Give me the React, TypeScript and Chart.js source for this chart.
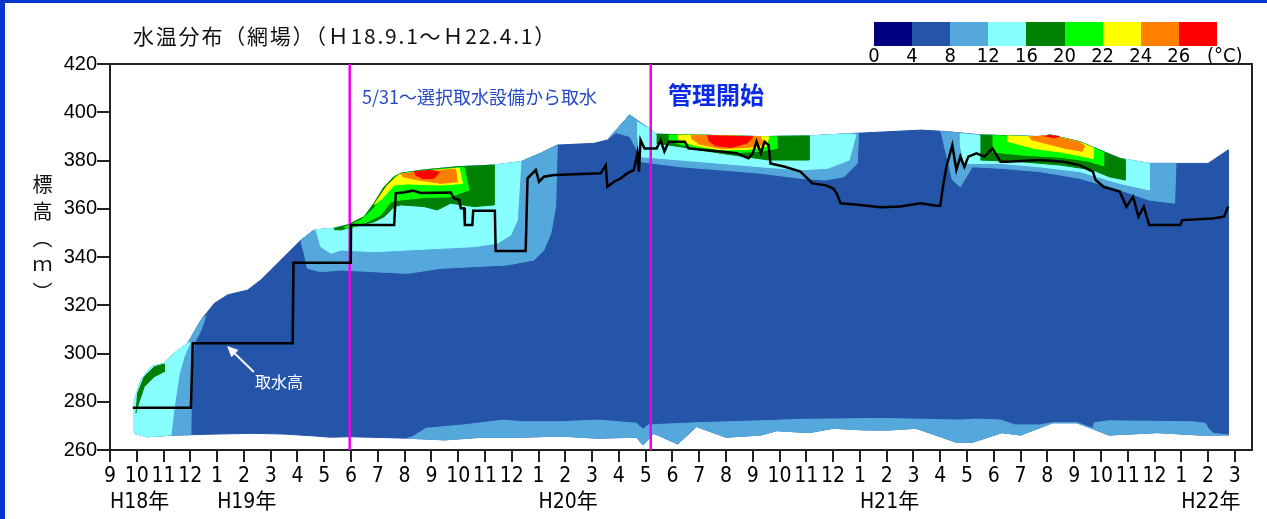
import React, { useEffect, useRef } from 'react';
import { Chart, registerables } from 'chart.js';

Chart.register(...registerables);

type P = [number, number];

// x = months elapsed since H18.9.1 (2006-09-01), y = elevation (m)
const X_MAX = 42.64;
const monthLabels = ['9', '10', '11', '12', '1', '2', '3', '4', '5', '6', '7', '8', '9', '10', '11', '12', '1', '2', '3', '4', '5', '6', '7', '8', '9', '10', '11', '12', '1', '2', '3', '4', '5', '6', '7', '8', '9', '10', '11', '12', '1', '2', '3'];
const yearTickMonths = [0, 4, 16, 28, 40];
const yearLabels = ['H18年', 'H19年', 'H20年', 'H21年', 'H22年'];
const elevTicks = [260, 280, 300, 320, 340, 360, 380, 400, 420];

const legendLabels = ['0', '4', '8', '12', '16', '20', '22', '24', '26'];
const tempColors = ['#000080', '#2555A8', '#55A8DC', '#88FFFF', '#008000', '#00FF00', '#FFFF00', '#FF8000', '#FF0000'];

// water surface (top of the coloured area), left -> right
const surface: P[] = [
  [0.91, 268], [0.91, 280.7], [1.16, 289], [1.53, 294.5], [2.03, 295.9], [2.4, 300.1], [2.9, 304.2], [3.4, 313.9],
  [3.9, 320.8], [4.39, 324.3], [5.14, 326.3], [5.63, 330.5], [6.38, 338.8], [7.13, 347.0], [7.62, 351.2], [8.37, 351.9],
  [8.87, 353.3], [9.49, 356.7], [9.86, 362.3], [10.24, 369.1], [10.61, 373.3], [10.86, 374.7], [11.73, 376.1],
  [12.97, 377.4], [14.34, 378.1], [15.34, 379.5], [16.08, 383.0], [16.7, 386.4], [18.07, 387.1], [18.57, 388.5],
  [19.4, 398.9], [20.1, 393.5], [20.41, 390.9], [21.75, 390.6], [24.3, 389.9], [26.1, 390.2], [27.9, 391.3],
  [30.3, 392.6], [31.2, 392], [32.5, 390.6], [34.7, 389.9], [35.1, 390.6], [36.2, 387.8], [37.7, 380.9],
  [38.8, 378.8], [41.0, 378.8], [41.75, 384.4],
];

// bottom of the coloured area, right -> left
const bottomEdge: P[] = [
  [41.75, 266.2], [40.7, 266.2], [39.1, 267.2], [37.3, 266.2], [36.1, 271.3], [35.2, 271.3], [34.0, 266.2],
  [33.3, 267.2], [32.2, 263.2], [31.6, 263.2], [30.1, 269], [29.1, 268.3], [28.2, 268.3], [27.0, 269], [26.1, 267.2],
  [24.9, 268.0], [24.3, 266.2], [23.0, 265.3], [21.9, 269.7], [21.2, 262.5], [20.3, 266.9], [19.9, 262.1],
  [19.66, 265.3], [18.2, 264.9], [16.8, 265.8], [15.4, 265.3], [13.9, 265.3], [12.5, 264.2], [11.1, 264.9],
  [9.66, 265.3], [8.95, 265.5], [8.23, 265.3], [7.65, 265.8], [6.5, 266.6], [5.37, 266.9], [3.95, 266.6],
  [2.5, 266.2], [1.8, 265.8], [1.38, 265.5], [0.91, 266.9],
];

// 8-12 band along the bottom, top edge left -> right
const bottomBandTop: P[] = [
  [11.1, 264.9], [11.3, 265.5], [11.8, 269], [13.2, 270.4], [14.7, 272.4], [15.4, 271.7], [16.8, 271.7], [18.2, 272.4],
  [19.66, 271.1], [19.9, 268.6], [20.1, 270.4], [21.9, 271.3], [24.3, 272.1], [25.8, 272.7], [28.8, 273.1],
  [31.75, 272.4], [32.35, 272.8], [33.25, 272.4], [33.8, 270.4], [34.7, 270.4], [35.2, 271.3], [36.1, 271.3],
  [36.7, 269], [36.75, 271.3], [37.3, 272.1], [40.4, 271.7], [40.9, 271.1], [41.0, 269], [41.2, 266.9], [41.75, 266.2],
];

// H18 autumn (left edge)
const lbLeftEdge: P[] = [[3.58, 315.6], [3.4, 309.7], [3.15, 304.2], [3.05, 293.2], [3.02, 266.3]];
const cyLeftEdge: P[] = [[3.0, 304.6], [2.77, 298.7], [2.59, 291.8], [2.4, 278], [2.28, 266.3]];
const grLeftArc: P[] = [[0.97, 275.2], [1.03, 283.5], [1.28, 290.4], [1.65, 294.5], [2.03, 295.6], [2.03, 292.5], [1.65, 290.4], [1.28, 286.3], [1.03, 278]];

// H19 warm season: lower edges, right -> left
const lb2007Lower: P[] = [[16.7, 386.0], [16.64, 360.9], [16.46, 349.8], [16.2, 342.9], [15.84, 338.8], [14.84, 336.7], [13.6, 336], [12.35, 335.3], [11.1, 333.2], [9.86, 333.9], [8.62, 334.6], [7.87, 333.9], [7.37, 335.3], [7.25, 341.5], [7.13, 346.5]];
const cy2007Lower: P[] = [[15.34, 378.8], [15.21, 355.3], [14.96, 349.1], [14.47, 345.7], [13.6, 344.3], [12.35, 343.6], [11.1, 342.9], [9.86, 342.2], [8.62, 342.9], [8.25, 341.5], [7.87, 344.3], [7.7, 350.9]];
const gr2007Lower: P[] = [[14.34, 361.6], [13.6, 360.9], [12.72, 362.3], [12.22, 359.5], [11.73, 360.9], [10.86, 361.6], [10.61, 360.9], [10.24, 356.7], [9.86, 354.6], [9.37, 353.3], [8.99, 352.3], [8.62, 351.2], [8.37, 351.4]];
const lime2007: P[] = [[8.74, 352.3], [9.37, 355.3], [9.86, 360.2], [10.24, 367.8], [10.67, 373.4], [11.1, 375.0], [12.35, 376.4], [13.22, 377.2], [13.41, 367.8], [12.72, 365], [11.73, 364.7], [10.86, 363.6], [10.49, 362.9], [10.11, 357.4], [9.49, 354], [8.87, 351.5]];
const yellow2007: P[] = [[9.86, 361.6], [10.36, 369.8], [10.8, 374.2], [11.73, 375.6], [13.04, 376.8], [13.16, 370.5], [12.35, 369.8], [11.1, 370.3], [10.61, 369.8], [10.11, 363.6]];
const orange2007: P[] = [[10.86, 374.4], [11.73, 375.5], [12.9, 376.4], [12.97, 371.2], [12.35, 370.5], [11.48, 372], [10.92, 373.3]];
const red2007: P[] = [[11.35, 375.3], [12.0, 375.9], [12.3, 375.0], [12.1, 372.6], [11.7, 372.4], [11.4, 374]];

// H20 warm season
const lb2008Lower: P[] = [[27.95, 390.9], [27.9, 378.8], [27.4, 373.3], [26.7, 371.9], [25.8, 372.6], [24.3, 374.7], [22.8, 376.1], [21.3, 377.4], [19.8, 379.5], [19.8, 382], [19.4, 390], [18.9, 391.5]];
const cy2008Lower: P[] = [[27.6, 391.0], [27.85, 390.6], [27.6, 380.2], [26.8, 376.8], [25.8, 376.1], [24.3, 377.4], [22.8, 378.8], [21.3, 380.2], [19.8, 381.6], [19.7, 390], [19.7, 396.2]];
const gr2008Lower: P[] = [[26.1, 380.2], [24.6, 380.2], [22.8, 383.0], [21.3, 385.7], [20.41, 387.1]];
const lime2008: P[] = [[20.86, 390.6], [21.75, 390.5], [24.3, 389.8], [24.9, 389.8], [24.9, 385], [24.3, 383.8], [23.4, 383.3], [22.2, 384.6], [21.3, 386.6], [20.86, 388.5]];
const yellow2008: P[] = [[21.2, 390.5], [21.75, 390.5], [24.3, 389.8], [24.6, 389.8], [24.5, 385.8], [23.8, 384.6], [22.8, 384.4], [21.8, 386.3], [21.2, 388.8]];
const orange2008: P[] = [[21.7, 390.5], [24.3, 389.8], [24.4, 386.5], [23.8, 385.4], [22.8, 385.0], [22.0, 386.8], [21.7, 389.2]];
const red2008: P[] = [[22.3, 390.3], [24.0, 389.8], [23.8, 387.3], [23.2, 385.4], [22.6, 386.2], [22.35, 388.2]];

// H21 warm season
const lb2009Lower: P[] = [[39.8, 378.8], [39.75, 362.3], [38.8, 363.6], [37.7, 367.8], [36.2, 372.6], [34.7, 375.4], [33.25, 376.8], [32.2, 377.4], [31.75, 369.1], [31.45, 372], [31.05, 391], [31.0, 392.1]];
const cy2009Lower: P[] = [[38.8, 367.8], [37.7, 370.5], [36.2, 375.4], [34.7, 377.4], [33.25, 378.8], [31.9, 378.8], [31.75, 386], [31.75, 391.3]];
const gr2009Lower: P[] = [[37.9, 380.4], [37.9, 371.9], [37.3, 373.3], [36.7, 376.1], [35.5, 378.1], [34.0, 379.5], [32.5, 380.2]];
const lime2009: P[] = [[32.95, 390.3], [34.7, 389.7], [35.1, 390.4], [36.2, 387.6], [37.1, 383.4], [37.1, 377.8], [36.5, 379.8], [35.5, 381.3], [34.0, 382.3], [32.95, 383.5]];
const yellow2009: P[] = [[33.5, 390.2], [34.7, 389.7], [35.1, 390.4], [36.2, 387.6], [36.7, 385.3], [36.7, 380.8], [36.2, 382], [35.5, 383.5], [34.5, 385], [33.5, 388]];
const orange2009: P[] = [[34.3, 389.8], [35.1, 390.4], [36.2, 387.6], [36.4, 386.0], [36.3, 383.8], [35.6, 385.2], [34.9, 387.2], [34.4, 388.6]];
const red2009: P[] = [[34.9, 390.0], [35.1, 390.4], [35.45, 390.0], [35.2, 389.3]];

// intake elevation (取水高)
const intake: P[] = [
  [0.85, 277.5], [3.02, 277.5], [3.09, 304.3], [6.82, 304.3], [6.85, 337.6], [8.99, 337.6], [9.0, 353.3], [10.61, 353.3],
  [10.67, 366.4], [11.0, 366.8], [11.3, 367.5], [11.6, 366.5], [12.72, 366.7], [12.85, 364.3], [13.04, 363.6],
  [13.1, 360.2], [13.22, 360.2], [13.25, 353.3], [13.53, 353.3], [13.56, 359.2], [14.37, 359.2], [14.4, 342.5],
  [15.52, 342.5], [15.59, 372.6], [15.9, 376.1], [16.02, 371.2], [16.2, 373.3], [16.58, 374], [18.32, 374.7],
  [18.51, 378.1], [18.57, 369.1], [18.82, 371.2], [19.07, 372.6], [19.31, 374.7], [19.56, 376.1], [19.69, 383],
  [19.75, 375.4], [19.81, 388.5], [19.96, 385], [20.1, 385], [20.41, 385], [20.56, 388.5], [20.7, 383.7],
  [20.86, 387.8], [21.46, 387.8], [21.6, 385], [22.2, 384.4], [22.8, 383.7], [23.4, 383], [23.84, 380.9],
  [24.0, 383], [24.14, 387.8], [24.3, 383], [24.44, 387.8], [24.59, 386.4], [24.66, 378.8], [25.2, 377.4],
  [25.78, 375.4], [26.23, 370.5], [26.7, 369.8], [27.0, 368.5], [27.13, 366.4], [27.28, 362.3], [28.02, 361.6],
  [28.77, 360.6], [29.51, 360.9], [30.26, 362.3], [30.86, 361.2], [31.0, 361.2], [31.1, 369.1], [31.23, 377.4],
  [31.45, 386.4], [31.6, 376.1], [31.75, 381.6], [31.9, 377.4], [32.05, 381.6], [32.35, 383], [32.65, 381.6],
  [32.95, 385], [33.25, 379.5], [33.5, 379.5], [34.7, 380.2], [35.6, 379.5], [36.2, 378.1], [36.7, 375.4],
  [36.8, 371.9], [37.1, 369.1], [37.7, 367.1], [37.95, 360.9], [38.2, 365], [38.4, 356.7], [38.6, 360.9],
  [38.8, 353.3], [39.96, 353.3], [40.04, 355.3], [41.16, 356], [41.6, 356.7], [41.75, 360.9],
];

const markerStart: P[] = [[8.95, 260], [8.95, 420]]; // 5/31
const markerManage: P[] = [[20.19, 260], [20.19, 420]]; // 管理開始
const arrowTail: P = [5.37, 292.3];
const arrowHead: P = [4.37, 303.1];

const BLUE_FRAME = '#0536D0';
const MAGENTA = '#F000F0';
const NARROW = "'Liberation Sans Narrow', 'DejaVu Sans Condensed', 'Noto Sans CJK JP', sans-serif";
const CJK = "'Noto Sans CJK JP', sans-serif";

const seg = (pts: P[], a: number, b: number) => pts.filter(([m]) => m >= a && m <= b);
const toXY = (pts: P[]) => pts.map(([x, y]) => ({ x, y }));

function area(label: string, pts: P[], colorIdx: number, order: number) {
  const c = tempColors[colorIdx];
  return {
    label, data: toXY(pts), fill: 'shape', backgroundColor: c, borderColor: c, borderWidth: 1,
    pointRadius: 0, pointHoverRadius: 0, pointHitRadius: 0, tension: 0, order,
  };
}
function line(label: string, pts: P[], color: string, width: number, order: number) {
  return {
    label, data: toXY(pts), fill: false, borderColor: color, backgroundColor: color, borderWidth: width,
    pointRadius: 0, pointHoverRadius: 0, pointHitRadius: 0, tension: 0, order,
  };
}

function buildDatasets() {
  const body = [...surface, ...bottomEdge];
  const bottomBand = [...bottomBandTop, ...seg(bottomEdge, 11.1, 41.75)];
  const lbLeft = [...seg(surface, 0.91, 3.4), ...lbLeftEdge, ...seg(bottomEdge, 0.91, 2.5)];
  const cyLeft = [...seg(surface, 0.91, 2.9), ...cyLeftEdge, ...seg(bottomEdge, 0.91, 1.8)];
  const lb2007 = [...seg(surface, 7.13, 16.7), ...lb2007Lower];
  const cy2007 = [...seg(surface, 7.62, 15.34), ...cy2007Lower];
  const gr2007 = [...seg(surface, 8.37, 14.34), ...gr2007Lower];
  const lb2008 = [...seg(surface, 18.57, 27.9), ...lb2008Lower];
  const cy2008 = [...seg(surface, 20.1, 26.1), ...cy2008Lower];
  const gr2008 = [...seg(surface, 20.41, 26.1), ...gr2008Lower];
  const lb2009 = [...seg(surface, 31.2, 38.8), ...lb2009Lower];
  const cy2009 = [...seg(surface, 32.5, 38.8), ...cy2009Lower];
  const gr2009 = [...seg(surface, 32.5, 37.7), ...gr2009Lower];
  return [
    line('取水高', intake, '#000', 2.5, 0),
    line('5/31', markerStart, MAGENTA, 2.5, 1),
    line('管理開始', markerManage, MAGENTA, 2.5, 1),
    area('26-', red2007, 8, 12), area('26-', red2008, 8, 12), area('26-', red2009, 8, 12),
    area('24-26', orange2007, 7, 13), area('24-26', orange2008, 7, 13), area('24-26', orange2009, 7, 13),
    area('22-24', yellow2007, 6, 14), area('22-24', yellow2008, 6, 14), area('22-24', yellow2009, 6, 14),
    area('20-22', lime2007, 5, 15), area('20-22', lime2008, 5, 15), area('20-22', lime2009, 5, 15),
    area('16-20', grLeftArc, 4, 16), area('16-20', gr2007, 4, 16), area('16-20', gr2008, 4, 16), area('16-20', gr2009, 4, 16),
    area('12-16', cyLeft, 3, 17), area('12-16', cy2007, 3, 17), area('12-16', cy2008, 3, 17), area('12-16', cy2009, 3, 17),
    area('8-12', lbLeft, 2, 18), area('8-12', lb2007, 2, 18), area('8-12', lb2008, 2, 18), area('8-12', lb2009, 2, 18),
    area('8-12', bottomBand, 2, 19),
    area('4-8', body, 1, 20),
  ];
}

const arrowPlugin = {
  id: 'intakeArrow',
  afterDatasetsDraw(chart: any) {
    const { ctx } = chart;
    const xs = chart.scales.x;
    const ys = chart.scales.y;
    const x1 = xs.getPixelForValue(arrowTail[0]);
    const y1 = ys.getPixelForValue(arrowTail[1]);
    const x2 = xs.getPixelForValue(arrowHead[0]);
    const y2 = ys.getPixelForValue(arrowHead[1]);
    const ang = Math.atan2(y2 - y1, x2 - x1);
    const L = 11;
    const W = 5;
    ctx.save();
    ctx.strokeStyle = '#fff';
    ctx.fillStyle = '#fff';
    ctx.lineWidth = 2;
    ctx.beginPath();
    ctx.moveTo(x1, y1);
    ctx.lineTo(x2 - Math.cos(ang) * L * 0.8, y2 - Math.sin(ang) * L * 0.8);
    ctx.stroke();
    ctx.beginPath();
    ctx.moveTo(x2, y2);
    ctx.lineTo(x2 - L * Math.cos(ang) + W * Math.sin(ang), y2 - L * Math.sin(ang) - W * Math.cos(ang));
    ctx.lineTo(x2 - L * Math.cos(ang) - W * Math.sin(ang), y2 - L * Math.sin(ang) + W * Math.cos(ang));
    ctx.closePath();
    ctx.fill();
    ctx.restore();
  },
};

const AXIS = '#222';

export default function App() {
  const ref = useRef<HTMLCanvasElement>(null);

  useEffect(() => {
    document.body.style.margin = '0';
    const chart = new Chart(ref.current as HTMLCanvasElement, {
      type: 'line',
      data: { datasets: buildDatasets() as any },
      plugins: [arrowPlugin],
      options: {
        responsive: false,
        animation: false,
        events: [],
        layout: { padding: { left: 0, top: 64, right: 15, bottom: 0 } },
        plugins: { legend: { display: false }, tooltip: { enabled: false }, title: { display: false } },
        scales: {
          x: {
            type: 'linear', position: 'bottom', min: 0, max: X_MAX, weight: 0,
            afterBuildTicks: (s: any) => { s.ticks = monthLabels.map((_, i) => ({ value: i })); },
            afterFit: (s: any) => { s.height = 40; },
            grid: { display: true, drawOnChartArea: false, drawTicks: true, tickLength: 12, color: AXIS, lineWidth: 2 },
            border: { display: true, color: AXIS, width: 2 },
            ticks: {
              autoSkip: false, maxRotation: 0, minRotation: 0, padding: 2, color: '#000',
              font: { family: NARROW, size: 21 },
              callback: (_v: any, i: number) => monthLabels[i],
            },
          },
          x2: {
            type: 'linear', position: 'bottom', min: 0, max: X_MAX, weight: 1,
            afterBuildTicks: (s: any) => { s.ticks = yearTickMonths.map((v) => ({ value: v })); },
            afterFit: (s: any) => { s.height = 29; },
            grid: { display: false, drawTicks: false },
            border: { display: false },
            ticks: {
              autoSkip: false, maxRotation: 0, minRotation: 0, padding: 0, align: 'start', color: '#000',
              font: { family: NARROW, size: 21 },
              callback: (_v: any, i: number) => yearLabels[i],
            },
          },
          xTop: {
            type: 'linear', position: 'top', min: 0, max: X_MAX,
            afterFit: (s: any) => { s.height = 0; },
            grid: { display: false, drawTicks: false },
            border: { display: true, color: AXIS, width: 2 },
            ticks: { display: false },
          },
          y: {
            type: 'linear', position: 'left', min: 260, max: 420,
            afterBuildTicks: (s: any) => { s.ticks = elevTicks.map((v) => ({ value: v })); },
            afterFit: (s: any) => { s.width = 110; },
            grid: { display: true, drawOnChartArea: false, drawTicks: true, tickLength: 13, color: AXIS, lineWidth: 2 },
            border: { display: true, color: AXIS, width: 2 },
            ticks: { padding: 0, color: '#000', font: { family: "'Liberation Sans', Arial, sans-serif", size: 20 } },
          },
          yRight: {
            type: 'linear', position: 'right', min: 260, max: 420,
            afterFit: (s: any) => { s.width = 0; },
            grid: { display: false, drawTicks: false },
            border: { display: true, color: AXIS, width: 2 },
            ticks: { display: false },
          },
        },
      } as any,
    });
    return () => chart.destroy();
  }, []);

  const legendLeft = 874;
  const legendStep = 38.1;

  return (
    <div style={{ position: 'relative', width: 1267, height: 519, background: '#fff', overflow: 'hidden' }}>
      <canvas ref={ref} width={1267} height={519} style={{ position: 'absolute', left: 0, top: 0 }} />
      <div style={{ position: 'absolute', left: 0, top: 0, width: 1267, height: 3, background: BLUE_FRAME }} />
      <div style={{ position: 'absolute', left: 0, top: 0, width: 5, height: 519, background: BLUE_FRAME }} />

      <div style={{ position: 'absolute', left: 133, top: 25, fontFamily: CJK, fontSize: 21, lineHeight: '21px', letterSpacing: 1.8, whiteSpace: 'nowrap', color: '#111' }}>
        水温分布（網場）（Ｈ18.9.1～Ｈ22.4.1）
      </div>

      <div style={{ position: 'absolute', left: 32, top: 174, fontFamily: CJK, fontSize: 20, lineHeight: '20px', letterSpacing: 7, writingMode: 'vertical-rl', color: '#111', whiteSpace: 'nowrap' }}>
        標高（ｍ）
      </div>

      {tempColors.map((c, i) => (
        <div key={'lc' + i} style={{ position: 'absolute', left: Math.round(legendLeft + i * legendStep), top: 22, width: Math.round(legendLeft + (i + 1) * legendStep) - Math.round(legendLeft + i * legendStep), height: 24, background: c }} />
      ))}
      {legendLabels.map((t, i) => (
        <div key={'ll' + i} style={{ position: 'absolute', left: legendLeft + i * legendStep, top: 45, transform: 'translateX(-50%)', fontFamily: NARROW, fontSize: 20, lineHeight: '20px', color: '#000', whiteSpace: 'nowrap' }}>
          {t}
        </div>
      ))}
      <div style={{ position: 'absolute', left: 1207, top: 45, fontFamily: NARROW, fontSize: 20, lineHeight: '20px', color: '#000', whiteSpace: 'nowrap' }}>(°C)</div>

      <div style={{ position: 'absolute', left: 362, top: 87, fontFamily: CJK, fontSize: 18, lineHeight: '18px', color: '#2548C8', whiteSpace: 'nowrap' }}>
        5/31～選択取水設備から取水
      </div>
      <div style={{ position: 'absolute', left: 668, top: 82, fontFamily: CJK, fontSize: 24, lineHeight: '24px', fontWeight: 600, color: '#0A2CE8', whiteSpace: 'nowrap' }}>
        管理開始
      </div>
      <div style={{ position: 'absolute', left: 255, top: 373, fontFamily: CJK, fontSize: 16, lineHeight: '16px', color: '#fff', whiteSpace: 'nowrap' }}>
        取水高
      </div>
    </div>
  );
}
